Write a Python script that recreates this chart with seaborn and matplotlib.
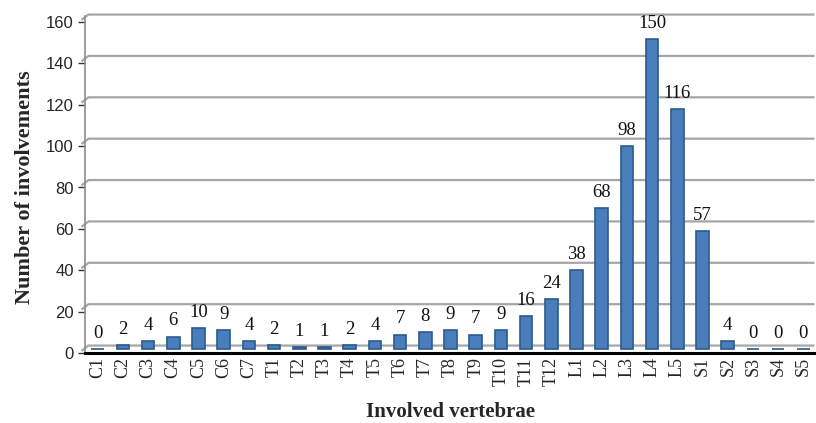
import matplotlib
matplotlib.use("Agg")
import matplotlib.pyplot as plt
import matplotlib.transforms as mtransforms
import seaborn as sns
import pandas as pd

vertebrae = ["C1", "C2", "C3", "C4", "C5", "C6", "C7",
             "T1", "T2", "T3", "T4", "T5", "T6", "T7", "T8", "T9", "T10", "T11", "T12",
             "L1", "L2", "L3", "L4", "L5",
             "S1", "S2", "S3", "S4", "S5"]
involvements = [0, 2, 4, 6, 10, 9, 4,
                2, 1, 1, 2, 4, 7, 8, 9, 7, 9, 16, 24,
                38, 68, 98, 150, 116,
                57, 4, 0, 0, 0]
y_ticks = [0, 20, 40, 60, 80, 100, 120, 140, 160]

df = pd.DataFrame({"vertebra": vertebrae, "count": involvements})

sns.set_style("white")
serif = ["Liberation Serif", "DejaVu Serif"]
sans = ["Liberation Sans", "DejaVu Sans"]

fig = plt.figure(figsize=(8.16, 4.23), dpi=100)
ax = fig.add_axes([85 / 816, 1 - 353 / 423, 731 / 816, (353 - 22) / 423])

x0, x1 = -0.64, 28.44
ax.set_xlim(x0, x1)
ax.set_ylim(0, 160)

# back-wall gridlines, shifted up and slanted at the left like a 3D chart
for v in y_ticks:
    ax.plot([x0, x0 + 0.28, x1], [v + 1.0, v + 3.6, v + 3.6],
            color="#a6a6a6", lw=1.6, clip_on=False, zorder=0.5,
            solid_capstyle="butt")

sns.barplot(data=df, x="vertebra", y="count", ax=ax, color="#4a7ebb",
            width=0.5, edgecolor="#2b5a8e", linewidth=1.2, saturation=1,
            zorder=2)

# bars sit on the middle depth plane, a few pixels above the front axis
lift = mtransforms.ScaledTranslation(0, 4 / 100, fig.dpi_scale_trans)
for p in ax.patches:
    p.set_transform(ax.transData + lift)

for c in ax.containers:
    ax.bar_label(c, labels=[str(v) for v in involvements], padding=8,
                 fontsize=13.5, family=serif, color="#111111")

ax.set_yticks(y_ticks)
ax.set_yticklabels([str(v) for v in y_ticks], fontsize=12, family=sans)
ax.tick_params(axis="y", which="major", direction="out", length=5,
               width=1, color="#333333", pad=3, left=True)
ax.tick_params(axis="x", length=0, pad=3)
for lbl in ax.get_xticklabels():
    lbl.set_rotation(90)
    lbl.set_fontsize(13)
    lbl.set_family(serif)

ax.set_xlabel("Involved vertebrae", fontsize=15, fontweight="bold",
              family=serif, labelpad=11)
ax.set_ylabel("Number of involvements", fontsize=16, fontweight="bold",
              family=serif, labelpad=8)

for side in ["top", "right"]:
    ax.spines[side].set_visible(False)
ax.spines["left"].set_color("#8c8c8c")
ax.spines["left"].set_linewidth(1.2)
ax.spines["left"].set_bounds(0, 163)
ax.spines["bottom"].set_color("black")
ax.spines["bottom"].set_linewidth(2.2)

fig.savefig("out.png", dpi=100)
